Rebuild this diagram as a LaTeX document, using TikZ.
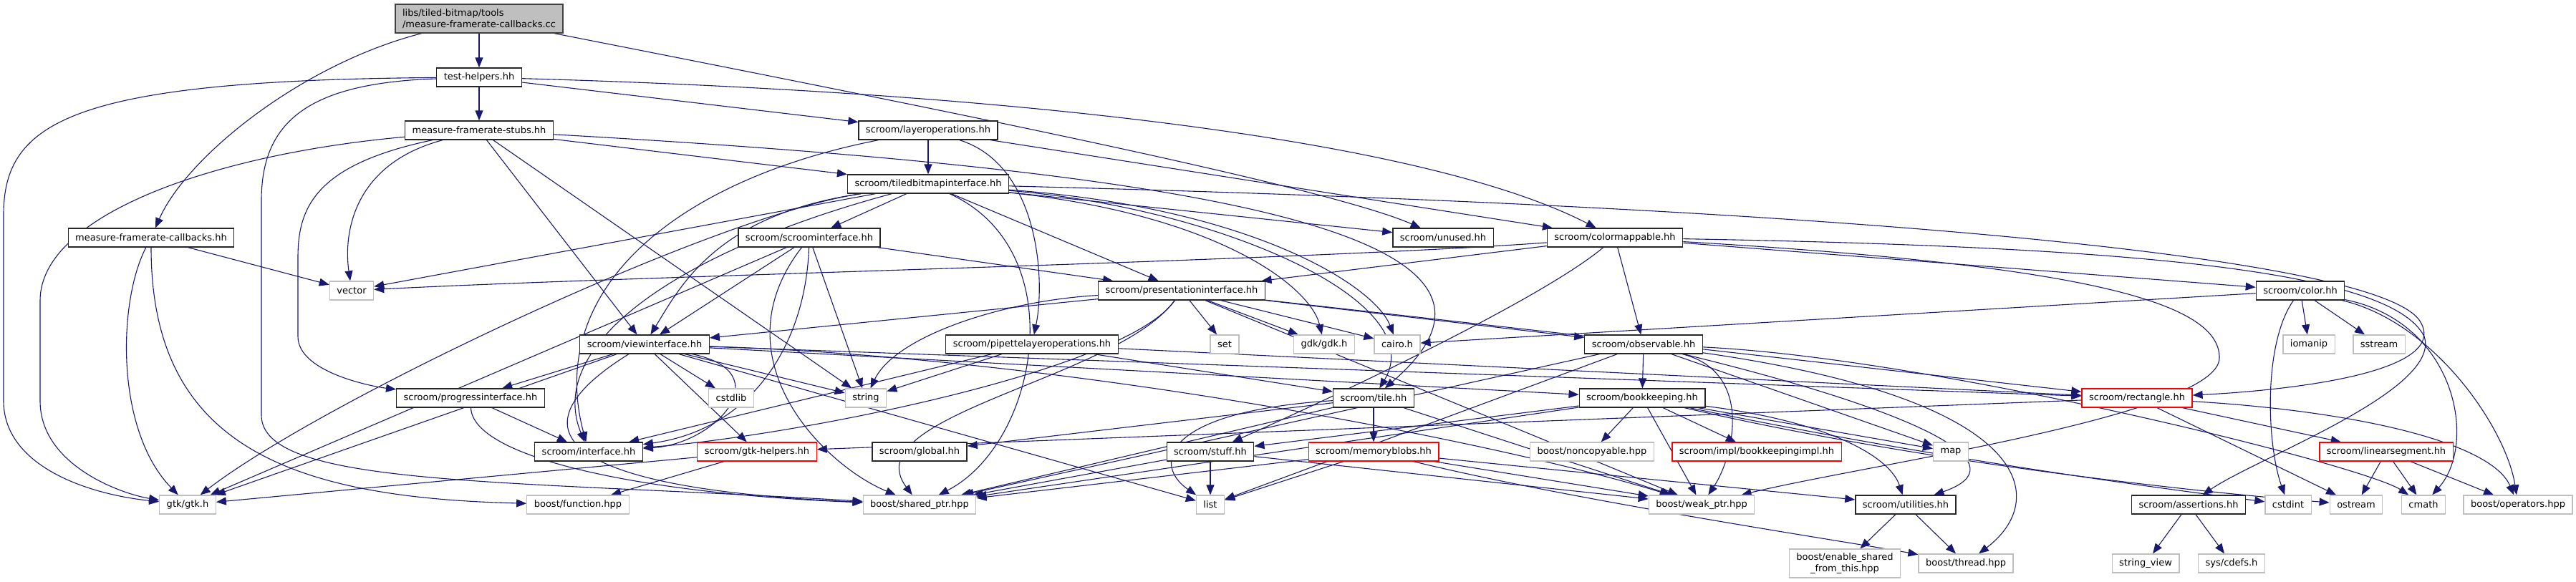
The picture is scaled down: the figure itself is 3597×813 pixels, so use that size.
\documentclass[tikz,border=0pt]{standalone}
\usepackage{fontspec}
\setmainfont{DejaVu Sans}
\usetikzlibrary{arrows.meta}
\definecolor{edgeblue}{HTML}{191970}
\definecolor{extgray}{HTML}{BFBFBF}
\pgfdeclarelayer{bg}
\pgfsetlayers{bg,main}
\tikzset{
  base/.style={rectangle, fill=white, line width=1.3pt, minimum height=26pt, inner xsep=10pt, inner ysep=2pt, font=\fontsize{13}{15.5}\selectfont},
  doc/.style={base, draw=black!85},
  ext/.style={base, draw=extgray},
  trunc/.style={base, draw=red},
  rootnode/.style={base, draw=black!75, fill=extgray, align=left, minimum height=40pt},
  e/.style={draw=edgeblue, line width=1.1pt, -{Triangle[length=14pt,width=11pt]}},
}
\begin{document}
\begin{tikzpicture}[x=1pt,y=-1pt]
\useasboundingbox (0,0) rectangle (3597,813);
\node[rootnode] (root) at (669,26) {libs/tiled-bitmap/tools\\/measure-framerate-callbacks.cc};
\node[doc] (th) at (669,108) {test-helpers.hh};
\node[doc] (stubs) at (669,182) {measure-framerate-stubs.hh};
\node[doc] (cbh) at (211,332) {measure-framerate-callbacks.hh};
\node[ext] (vector) at (491,406) {vector};
\node[ext] (gtk) at (262,705) {gtk/gtk.h};
\node[doc] (layer) at (1296,182) {scroom/layeroperations.hh};
\node[doc] (tbi) at (1296,257) {scroom/tiledbitmapinterface.hh};
\node[doc] (sci) at (1130,332) {scroom/scroominterface.hh};
\node[doc] (pres) at (1650,406) {scroom/presentationinterface.hh};
\node[doc] (unused) at (2015,332) {scroom/unused.hh};
\node[doc] (cmap) at (2255,332) {scroom/colormappable.hh};
\node[doc] (color) at (3212,406) {scroom/color.hh};
\node[doc] (view) at (900,481) {scroom/viewinterface.hh};
\node[doc] (prog) at (657,556) {scroom/progressinterface.hh};
\node[doc] (iface) at (822,631) {scroom/interface.hh};
\node[ext] (cstdlib) at (1021,556) {cstdlib};
\node[ext] (string) at (1209,556) {string};
\node[trunc] (gtkh) at (1057,631) {scroom/gtk-helpers.hh};
\node[ext] (func) at (807,705) {boost/function.hpp};
\node[doc] (pipe) at (1441,481) {scroom/pipettelayeroperations.hh};
\node[ext] (set) at (1710,481) {set};
\node[doc] (global) at (1284,631) {scroom/global.hh};
\node[ext] (shptr) at (1284,705) {boost/shared\_ptr.hpp};
\node[doc] (stuff) at (1690,631) {scroom/stuff.hh};
\node[ext] (list) at (1690,705) {list};
\node[ext] (gdk) at (1849,481) {gdk/gdk.h};
\node[ext] (cairo) at (1951,481) {cairo.h};
\node[doc] (obs) at (2295,481) {scroom/observable.hh};
\node[doc] (tile) at (1918,556) {scroom/tile.hh};
\node[doc] (book) at (2293,556) {scroom/bookkeeping.hh};
\node[trunc] (mem) at (1918,631) {scroom/memoryblobs.hh};
\node[ext] (noncopy) at (2223,631) {boost/noncopyable.hpp};
\node[trunc] (bkimpl) at (2453,631) {scroom/impl/bookkeepingimpl.hh};
\node[ext] (weak) at (2376,705) {boost/weak\_ptr.hpp};
\node[ext] (map) at (2724,631) {map};
\node[trunc] (rect) at (2984,556) {scroom/rectangle.hh};
\node[doc] (util) at (2661,705) {scroom/utilities.hh};
\node[ext, align=center, minimum height=40pt] (enable) at (2576,787) {boost/enable\_shared\\\_from\_this.hpp};
\node[ext] (thread) at (2745,787) {boost/thread.hpp};
\node[doc] (assert) at (3056,705) {scroom/assertions.hh};
\node[ext] (sview) at (2996,787) {string\_view};
\node[ext] (cdefs) at (3116,787) {sys/cdefs.h};
\node[ext] (iomanip) at (3224,481) {iomanip};
\node[ext] (sstream) at (3322,481) {sstream};
\node[trunc] (linseg) at (3332,631) {scroom/linearsegment.hh};
\node[ext] (cstdint) at (3195,705) {cstdint};
\node[ext] (ostream) at (3290,705) {ostream};
\node[ext] (cmath) at (3384,705) {cmath};
\node[ext] (ops) at (3516,705) {boost/operators.hpp};

\begin{pgfonlayer}{bg}
\foreach \a/\b in {root/th, th/stubs, th/layer, cbh/vector, stubs/tbi, stubs/view, stubs/string,
  layer/tbi, layer/cmap, tbi/vector, tbi/sci, tbi/pres, tbi/unused, sci/gtk, sci/view, sci/string,
  sci/pres, cmap/pres, cmap/color, cmap/obs, pres/view, pres/set, pres/gdk, pres/cairo, pres/obs,
  pres/rect, pres/weak, view/gtk, view/prog, view/cstdlib, view/gtkh, view/string, view/rect,
  view/book, view/list, prog/iface, gtkh/gtk, gtkh/func, pipe/string, pipe/rect, pipe/tile,
  pipe/iface, tile/mem, tile/weak, tile/global, tile/shptr, mem/list, mem/shptr, mem/weak, mem/util,
  stuff/list, stuff/shptr, stuff/weak, obs/book, obs/shptr, obs/list, obs/map, book/noncopy,
  book/bkimpl, book/map, book/shptr, book/weak, book/stuff, util/enable, util/thread, rect/linseg,
  rect/ostream, rect/gtkh, linseg/ostream, linseg/cmath, linseg/ops, assert/sview, assert/cdefs,
  color/iomanip, color/sstream, color/cairo}
  \draw[e] (\a) -- (\b);
\draw[e] (root) .. controls (420,90) and (260,220) .. (cbh);
\draw[e] (root) .. controls (1300,150) and (1850,260) .. (unused);
\draw[e] (th) .. controls (1450,130) and (2000,200) .. (cmap);
\draw[e] (th) .. controls (100,112) and (5,170) .. (5,300) -- (5,560) .. controls (5,650) and (120,690) .. (gtk);
\draw[e] (th) .. controls (430,116) and (365,170) .. (365,280) -- (365,580) .. controls (365,680) and (700,670) .. (shptr);
\draw[e] (cbh) .. controls (165,420) and (160,600) .. (gtk);
\draw[e] (cbh) .. controls (211,620) and (400,695) .. (func);
\draw[e] (stubs) .. controls (300,215) and (56,300) .. (56,420) -- (56,560) .. controls (56,650) and (170,690) .. (gtk);
\draw[e] (stubs) .. controls (440,230) and (416,290) .. (416,360) -- (416,470) .. controls (416,520) and (520,540) .. (prog);
\draw[e] (stubs) .. controls (490,230) and (480,330) .. (vector);
\draw[e] (stubs) .. controls (1700,240) and (2180,330) .. (tile);
\draw[e] (layer) .. controls (1450,230) and (1460,390) .. (pipe);
\draw[e] (layer) .. controls (950,250) and (760,400) .. (iface);
\draw[e] (tbi) .. controls (1000,300) and (450,560) .. (gtk);
\draw[e] (tbi) .. controls (2600,290) and (3330,360) .. (3380,450) .. controls (3420,520) and (3200,545) .. (rect);
\draw[e] (tbi) .. controls (1700,290) and (2000,420) .. (tile);
\draw[e] (tbi) .. controls (1700,300) and (1830,400) .. (gdk);
\draw[e] (tbi) .. controls (1750,290) and (1920,400) .. (cairo);
\draw[e] (tbi) .. controls (950,350) and (760,480) .. (iface);
\draw[e] (tbi) .. controls (1000,300) and (950,400) .. (view);
\draw[e] (tbi) .. controls (1500,350) and (1450,620) .. (shptr);
\draw[e] (sci) .. controls (1000,500) and (1150,650) .. (shptr);
\draw[e] (sci) .. controls (1125,480) and (1050,600) .. (iface);
\draw[e] (cmap) .. controls (3000,345) and (3340,380) .. (3385,470) .. controls (3410,545) and (3150,640) .. (assert);
\draw[e] (cmap) .. controls (2900,370) and (3100,420) .. (3099,500) .. controls (3099,580) and (2600,650) .. (weak);
\draw[e] (cmap) .. controls (1800,365) and (900,385) .. (vector);
\draw[e] (cmap) .. controls (2150,420) and (1850,560) .. (stuff);
\draw[e] (pres) .. controls (1570,520) and (1100,610) .. (iface);
\draw[e] (pres) .. controls (1560,530) and (1190,580) .. (shptr);
\draw[e] (pres) .. controls (1400,420) and (1250,470) .. (string);
\draw[e] (view) .. controls (740,580) and (720,680) .. (shptr);
\draw[e] (view) .. controls (1090,520) and (1000,620) .. (iface);
\draw[e] (view) .. controls (1500,500) and (2100,620) .. (weak);
\draw[e] (prog) .. controls (660,640) and (900,690) .. (shptr);
\draw[e] (tile) .. controls (1620,575) and (1610,650) .. (list);
\draw[e] (obs) .. controls (2850,560) and (2860,700) .. (thread);
\draw[e] (obs) .. controls (2700,580) and (2820,650) .. (util);
\draw[e] (obs) .. controls (2450,520) and (2420,640) .. (weak);
\draw[e] (obs) .. controls (2700,500) and (3300,650) .. (cmath);
\draw[e] (book) .. controls (2560,590) and (2640,640) .. (util);
\draw[e] (book) .. controls (2700,640) and (3000,680) .. (cstdint);
\draw[e] (book) .. controls (2700,650) and (3100,690) .. (ostream);
\draw[e] (mem) .. controls (2200,700) and (2600,760) .. (thread);
\draw[e] (color) .. controls (3430,450) and (3460,620) .. (cmath);
\draw[e] (color) .. controls (3400,450) and (3500,600) .. (ops);
\draw[e] (color) .. controls (3160,480) and (3165,620) .. (cstdint);
\draw[e] (rect) .. controls (3300,575) and (3480,620) .. (ops);
\end{pgfonlayer}
\end{tikzpicture}
\end{document}
